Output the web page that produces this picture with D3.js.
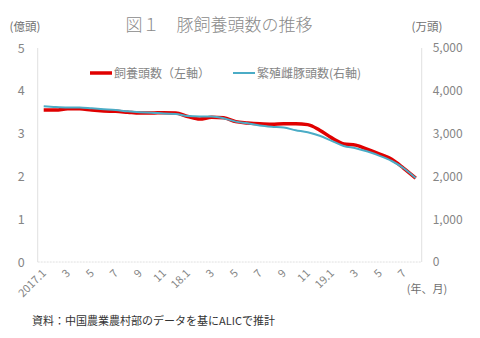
<!DOCTYPE html>
<html><head><meta charset="utf-8">
<script src="https://cdn.jsdelivr.net/npm/d3@7"></script>
<style>
body{margin:0;background:#fff;}
svg{display:block;font-family:"Noto Sans CJK JP","Noto Sans",sans-serif;}
</style></head>
<body><svg id="c" width="480" height="338"></svg>
<script>
const months = ["2017.1","2","3","4","5","6","7","8","9","10","11","12",
  "18.1","2","3","4","5","6","7","8","9","10","11","12",
  "19.1","2","3","4","5","6","7","8"];
const tickLabels = ["2017.1","3","5","7","9","11","18.1","3","5","7","9","11","19.1","3","5","7"];
const pigs = [3.55,3.55,3.58,3.58,3.55,3.53,3.52,3.50,3.48,3.48,3.49,3.48,
  3.40,3.34,3.38,3.37,3.28,3.25,3.23,3.22,3.23,3.23,3.21,3.08,
  2.90,2.76,2.73,2.63,2.52,2.40,2.19,1.96];
const sows = [3640,3620,3610,3610,3590,3570,3550,3520,3500,3490,3470,3460,
  3410,3400,3400,3360,3280,3240,3190,3160,3140,3080,3030,2950,
  2830,2710,2660,2580,2480,2360,2190,1960];
const leftTicks = [0,1,2,3,4,5];
const rightTicks = [0,1000,2000,3000,4000,5000];
const seriesNames = ["飼養頭数（左軸）","繁殖雌豚頭数(右軸)"];

const svg = d3.select("#c");
const L = 37.7, R = 421.7, T = 48, B = 262;
const idx = months.map((d,i)=>i);
const x = d3.scaleBand().domain(idx).range([L,R]);
const cx = i => x(i) + x.bandwidth()/2;
const yL = d3.scaleLinear().domain([0,5]).range([B,T]);
const yR = d3.scaleLinear().domain([0,5000]).range([B,T]);
const gray = "#6f6f6f";
const light = "#858585";

// title
svg.append("text").attr("x",219).attr("y",31).attr("text-anchor","middle")
  .attr("font-size",17).attr("font-weight",300).attr("fill","#8a8a8a").text("図１　豚飼養頭数の推移");
svg.append("text").attr("x",25).attr("y",31).attr("text-anchor","middle")
  .attr("font-size",11.5).attr("fill",gray).text("(億頭)");
svg.append("text").attr("x",427).attr("y",31).attr("text-anchor","middle")
  .attr("font-size",11.5).attr("fill",gray).text("(万頭)");

// axes lines
svg.append("line").attr("x1",L).attr("x2",L).attr("y1",T).attr("y2",B).attr("stroke","#e0e0e0");
svg.append("line").attr("x1",R).attr("x2",R).attr("y1",T).attr("y2",B).attr("stroke","#e0e0e0");
svg.append("line").attr("x1",L).attr("x2",R).attr("y1",B).attr("y2",B).attr("stroke","#e0e0e0").attr("stroke-dasharray","2,1");

// left axis labels
const la = svg.append("g").attr("transform",`translate(${L},0)`)
  .call(d3.axisLeft(yL).tickValues(leftTicks).tickSize(0).tickPadding(13).tickFormat(d3.format("d")));
la.select(".domain").remove();
la.selectAll("text").attr("font-size",12.5).attr("fill",light).attr("font-family","Noto Sans CJK JP");
// right axis labels
const ra = svg.append("g").attr("transform",`translate(${R},0)`)
  .call(d3.axisRight(yR).tickValues(rightTicks).tickSize(0).tickPadding(11).tickFormat(d3.format(",")));
ra.select(".domain").remove();
ra.selectAll("text").attr("font-size",12).attr("fill",light).attr("font-family","Noto Sans CJK JP");

// x labels
const xa = svg.append("g");
tickLabels.forEach((t,k)=>{
  const i = k*2;
  xa.append("text").attr("transform",`translate(${cx(i)+3},${B+12}) rotate(-45)`)
    .attr("text-anchor","end").attr("font-size",11).attr("fill",light).text(t);
});
svg.append("text").attr("x",427).attr("y",293).attr("text-anchor","middle")
  .attr("font-size",11).attr("fill",gray).text("(年、月)");

// lines
const lineL = d3.line().x((d,i)=>cx(i)).y(d=>yL(d)).curve(d3.curveMonotoneX);
const lineR = d3.line().x((d,i)=>cx(i)).y(d=>yR(d)).curve(d3.curveMonotoneX);
svg.append("path").datum(pigs).attr("d",lineL).attr("fill","none")
  .attr("stroke","#e00000").attr("stroke-width",3.5).attr("stroke-linejoin","round");
svg.append("path").datum(sows).attr("d",lineR).attr("fill","none")
  .attr("stroke","#4bacc6").attr("stroke-width",2).attr("stroke-linejoin","round");

// legend
const lg = svg.append("g");
lg.append("line").attr("x1",90).attr("x2",112).attr("y1",73).attr("y2",73).attr("stroke","#e00000").attr("stroke-width",3.5);
lg.append("text").attr("x",114).attr("y",77.5).attr("font-size",12).attr("fill",light).text(seriesNames[0]);
lg.append("line").attr("x1",233).attr("x2",255).attr("y1",73).attr("y2",73).attr("stroke","#4bacc6").attr("stroke-width",2);
lg.append("text").attr("x",257).attr("y",77.5).attr("font-size",12).attr("fill",light).text(seriesNames[1]);

// source
svg.append("text").attr("x",32).attr("y",325).attr("font-size",11).attr("fill","#333")
  .attr("textLength",243).attr("lengthAdjust","spacingAndGlyphs")
  .text("資料：中国農業農村部のデータを基にALICで推計");
</script></body></html>
